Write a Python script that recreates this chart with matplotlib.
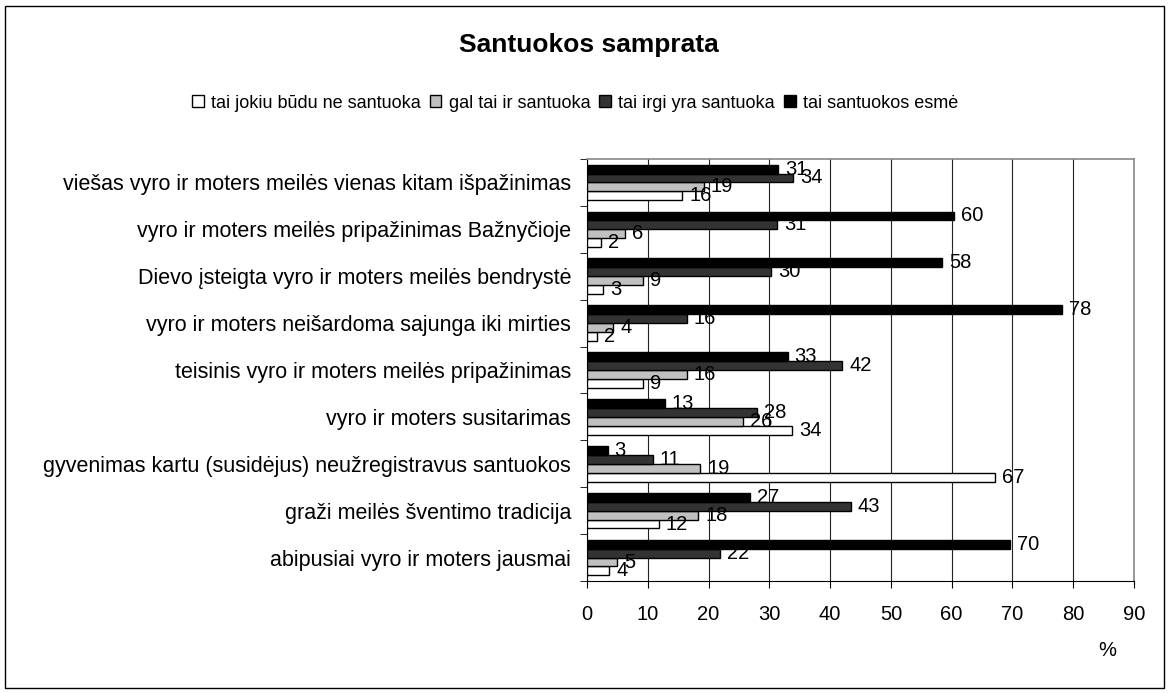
import numpy as np
import matplotlib
matplotlib.use('Agg')
import matplotlib.pyplot as plt
from matplotlib.patches import Patch, Rectangle

plt.rcParams['font.family'] = ['Liberation Sans', 'DejaVu Sans']

categories = [
    'viešas vyro ir moters meilės vienas kitam išpažinimas',
    'vyro ir moters meilės pripažinimas Bažnyčioje',
    'Dievo įsteigta vyro ir moters meilės bendrystė',
    'vyro ir moters neišardoma sajunga iki mirties',
    'teisinis vyro ir moters meilės pripažinimas',
    'vyro ir moters susitarimas',
    'gyvenimas kartu (susidėjus) neužregistravus santuokos',
    'graži meilės šventimo tradicija',
    'abipusiai vyro ir moters jausmai',
]
series_names = ['tai jokiu būdu ne santuoka', 'gal tai ir santuoka',
                'tai irgi yra santuoka', 'tai santuokos esmė']
ne_santuoka = [15.7, 2.3, 2.7, 1.6, 9.2, 33.8, 67.2, 11.8, 3.7]
gal_santuoka = [19.2, 6.2, 9.2, 4.3, 16.4, 25.7, 18.6, 18.3, 4.9]
irgi_santuoka = [33.9, 31.3, 30.3, 16.4, 42.0, 28.0, 10.8, 43.4, 21.9]
santuokos_esme = [31.4, 60.4, 58.4, 78.2, 33.0, 12.8, 3.4, 26.8, 69.6]
xticks = [0, 10, 20, 30, 40, 50, 60, 70, 80, 90]

series = [ne_santuoka, gal_santuoka, irgi_santuoka, santuokos_esme]
colors = ['white', '#c0c0c0', '#333333', 'black']

fig = plt.figure(figsize=(11.69, 6.93), dpi=100)
ax = fig.add_axes([587/1169, 1-581/693, (1134-587)/1169, (581-159)/693])

n = len(categories)
y = np.arange(n)[::-1]
h = 0.19
offs = [-1.5*h, -0.5*h, 0.5*h, 1.5*h]
for vals, c, off, name in zip(series, colors, offs, series_names):
    ax.barh(y + off, vals, height=h, color=c, edgecolor='black', linewidth=1,
            zorder=3, label=name)
    for yy, v in zip(y, vals):
        ax.annotate(f'{v:.0f}', (v, yy + off), xytext=(7, 0),
                    textcoords='offset pixels', va='center', ha='left',
                    fontsize=14.5, zorder=4)

ax.set_xlim(0, 90)
ax.set_ylim(-0.5, n - 0.5)
ax.set_xticks(xticks)
ax.tick_params(axis='x', labelsize=14.5, length=5, direction='out', pad=12)
ax.set_yticks(y)
ax.set_yticklabels(categories, fontsize=15.5)
ax.tick_params(axis='y', which='major', length=0, pad=11.5)
ax.set_yticks(np.arange(n + 1) - 0.5, minor=True)
ax.tick_params(axis='y', which='minor', length=5, direction='out')
ax.xaxis.grid(True, color='#222222', linewidth=0.8, zorder=0)
ax.set_axisbelow(True)
for s in ['top', 'right']:
    ax.spines[s].set_color('#888888')
    ax.spines[s].set_linewidth(1.2)

fig.text(1107/1169, 1-650/693, '%', fontsize=14.5, ha='center', va='center')
fig.text(589/1169, 1-45/693, 'Santuokos samprata', fontsize=19,
         fontweight='bold', ha='center', va='center')

handles = [Patch(facecolor=c, edgecolor='black', linewidth=1) for c in colors]
fig.legend(handles, series_names, loc='center', ncol=4, frameon=False,
           bbox_to_anchor=(575/1169, 1-103/693), fontsize=13,
           handlelength=0.65, handleheight=0.65, handletextpad=0.4,
           columnspacing=0.5)

fig.patches.append(Rectangle((5/1169, 5/693), 1-10/1169, 1-11/693,
                             transform=fig.transFigure, fill=False,
                             edgecolor='black', linewidth=1))

fig.savefig('out.png', dpi=100)
